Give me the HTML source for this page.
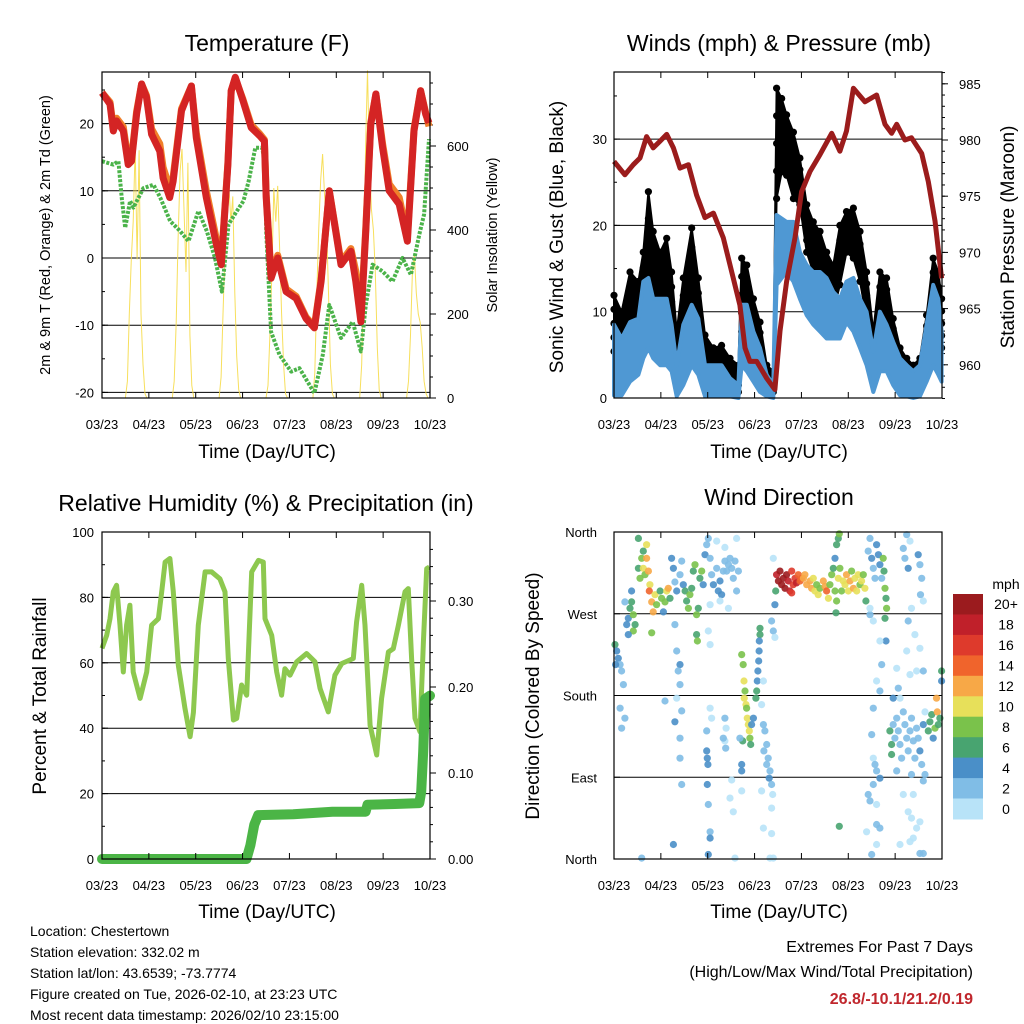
<!DOCTYPE html>
<html><head><meta charset="utf-8">
<style>
html,body{margin:0;padding:0;background:#fff;}
svg{display:block;font-family:"Liberation Sans",Arial,sans-serif;}
</style></head>
<body>
<svg id="chart" width="1024" height="1024" viewBox="0 0 1024 1024" xmlns="http://www.w3.org/2000/svg"></svg>
<script>
// ---------- DATA ----------
const dayLabels = ["03/23","04/23","05/23","06/23","07/23","08/23","09/23","10/23"];
// Temperature (F)
const tempHours = [0,4.1,5.8,7.5,10.9,13.4,15.1,17.7,20.3,22.8,25.4,29.6,31.3,34.7,36.4,40.7,45.8,48.3,53.4,58.6,61.1,64.5,66.2,68.3,72.2,76.4,80.7,83.2,84.1,86.6,90,94.3,99.4,104.5,108.8,112.2,116.4,122.4,127.5,130,132.6,135.1,137.7,140.3,143.7,147.1,152.2,156.4,159.8,163.2,165.8,167.5];
const temp2m = [24.6,22.9,18.9,20.4,18.9,13.9,14.4,21.4,25.9,23.9,18.4,15.9,11.9,9.0,11.4,21.9,25.6,17.9,9.0,2.0,-1.0,13.9,24.9,26.9,23.4,19.4,18.2,17.4,9.0,-3.0,0,-5.0,-6.0,-9.0,-10.4,-3.5,10,-1.0,1.0,-3.5,-9.5,4,19.9,24.4,16.4,10,8,2.5,18.9,24.9,21.4,20.1];
const temp9m = [24.6,23.2,19.5,20.8,19.5,14.5,14.8,21.8,25.9,24.2,19.2,17.0,13.5,10.4,12.0,22.2,25.6,18.6,10.0,2.8,-0.6,14.2,24.9,26.7,23.6,19.8,18.5,17.6,9.4,-2.6,0.4,-4.6,-5.7,-8.8,-10.2,-3.2,10,-0.6,1.4,-2.0,-8.5,4.5,20.2,24.4,17.0,11,9,3.2,19.2,24.9,21.6,19.6];
const dewHours = [0,5.8,8.4,10.1,11.9,14.4,16.1,21.2,26.4,29.8,34.9,40,44.3,49.4,53.7,57.9,61.4,64.8,69.1,72.5,75.1,78.5,81.9,83.6,84.1,86.6,90.9,96.9,101.1,108.8,113.1,116.4,122.4,128.4,132.6,135.1,138.6,143.7,148.8,153.9,158.2,162.5,165,167.5];
const dewPt = [14.4,13.9,14.4,9,4.5,8.5,7.5,10.4,10.9,9,5.5,4,2.5,7.0,4,0,-5,5,7,8.5,11.4,16.4,16.4,14.4,4,-11,-14.4,-16.9,-16.4,-20.1,-14.4,-7,-11.9,-9.5,-13.9,-7,-1.0,-2,-3.5,0,-2.5,3.5,6.5,17.7];
// Solar insolation, hourly values 12..23 UTC per day (night = 0)
const solarDay0 = [0,40,200,330,420,600,330,590,200,80,10,0];
const solarDay1 = [0,40,180,380,540,593,450,300,560,150,30,0];
const solarDay2 = [0,50,200,350,450,505,420,480,250,100,20,0];
const solarDay3 = [0,30,150,300,500,420,505,350,200,80,10,0];
const solarDay4 = [0,60,250,400,520,581,480,420,250,80,10,0];
const solarDay5 = [0,80,300,600,780,560,450,400,300,120,20,0];
const solarDay6 = [0,40,150,300,342,250,200,180,120,40,10,0];
// Winds (mph) & pressure (mb)
const windHours = [0,3.9,8.2,12.5,15,17.6,20.1,23.6,27,29.5,32.1,35.5,39.8,43.2,46.6,50.9,55.1,59.4,63.7,65.4,68,71.4,74.8,78.2,81.6,83.3,85.9,88.4,91.9,95.2,98.7,102.1,105.5,108.9,112.3,115.7,119.1,122.6,126,129.4,132.8,136.2,139.6,143,146.5,149.9,153.3,156.7,160.1,163.5,166.1,167.8];
const gustHi = [11.9,10.0,14.6,13.5,16.9,23.9,19.3,16.9,18.5,14.6,7.7,13.9,19.7,13.9,7.3,5.8,6.1,4.6,3.8,16.2,15.4,11.5,8.8,3.8,3.1,35.9,34.7,32.8,30.8,27.8,22.4,20.4,19.3,16.9,15.4,20.0,21.6,22.0,19.3,14.6,7.7,14.6,13.9,9.2,5.8,4.6,3.8,4.6,9.6,16.2,14.6,11.5];
const gustLo = [5.4,3.8,5.7,7.7,9.6,11.5,10.8,10.0,9.2,7.7,3.1,5.8,10.8,6.9,2.7,2.3,2.7,1.5,0.7,7.7,7.7,5.8,3.8,1.5,0.7,23.1,26.2,25.8,23.1,22.4,16.9,14.6,14.6,11.5,10.0,13.1,16.9,16.2,13.5,9.2,3.8,7.7,8.5,4.6,3.1,1.9,1.5,1.9,4.6,9.6,7.7,5.8];
const windHi = [8.5,6.9,8.8,9.2,13.5,13.9,11.5,11.5,11.5,8.5,3.8,8.5,10.8,9.2,3.8,3.8,3.8,2.3,1.5,10.8,10.8,7.7,5.8,2.7,1.5,21.2,20.8,20.4,20.4,16.9,15.4,14.6,14.6,13.9,12.3,11.5,13.5,13.9,11.5,10.0,5.4,10.0,8.5,6.5,4.6,3.8,3.1,3.8,8.5,13.1,11.5,7.7];
const windLo = [0.3,0.3,1.9,2.7,4.6,5.8,4.6,3.8,3.8,3.1,0.2,1.5,3.8,2.7,0.2,0.2,0.3,0.2,0,3.8,3.1,1.9,0.7,0.2,0,13.1,13.9,14.6,13.5,11.5,9.6,8.5,7.7,6.9,6.9,6.9,8.8,7.7,5.8,3.8,0.7,3.1,3.1,1.5,0.3,0.2,0,0.2,1.9,3.8,2.7,1.9];
const presHours = [0,5.6,9.9,13.3,16.7,20.1,23.6,27,30.4,33.8,38.1,42.3,46.6,50.9,56,61.1,64.5,67.1,69.6,73.1,78.2,82.4,85,88.4,92.7,96.1,100.4,105.5,111.5,115.7,119.1,122.6,128.5,134.5,138.8,142.2,144.8,149,152.4,157.6,161,164.4,167.8];
const pressure = [978.1,976.9,977.8,978.4,980.3,979.3,979.9,980.5,979.3,977.5,977.8,975.1,973.1,973.5,971.3,967.7,965.3,961.5,960.3,960.3,958.8,957.8,963,967.4,971.3,975.4,977.2,978.7,980.6,979,980.8,984.6,983.4,984.0,981.4,980.6,981.4,980,980.2,978.8,976.3,972.8,967.7];
// Relative humidity (%) & precipitation (in)
const rhHours = [0,2.4,4.1,5.8,7.5,9.2,10.9,12.6,14.3,16,19.5,22.9,25.4,28.9,30.6,32.3,34.8,36.5,39.1,42.5,45.1,46.8,49.3,52.8,56.2,60.4,63,64.7,67.3,69,71.5,74.1,76.7,80.1,82.6,83.5,86.9,89.5,92,93.7,96.3,99.7,104.8,109.1,111.7,115.9,119.3,122.8,128.7,130.4,133,134.7,137.3,140.7,143.2,146.7,149.2,151.8,155.2,156.9,158.6,160.3,162.9,164.6,166.3,167.7];
const rh = [64.4,68.4,73.5,81.7,83.7,71.5,57.2,71.5,77.6,57.2,49.1,57.2,71.5,73.5,81.7,90.8,91.9,81.7,59.3,46,37.4,44.8,71.5,87.8,87.8,85.7,81.7,61.3,42.5,43,53.2,50.1,87.8,91.3,90.8,73.5,68.4,57.2,50.1,58.2,56.2,60.3,62.8,60.3,52.1,45,56.2,59.8,61.3,72.5,83.7,71.5,40.9,31.8,49.1,63.3,64.3,71.5,81.7,82.7,61.3,43,38.9,66.4,88.8,89.3];
const precipHours = [0,74,76,78,80,98,118,135,136,150,162.5,163.5,164.5,165.5,168];
const precip = [0,0,0.016,0.04,0.051,0.052,0.055,0.055,0.063,0.064,0.065,0.078,0.125,0.186,0.19];
// Wind direction observations (hours since start, degrees, mph)
const dirHours = [0.5,1.4,2.2,3.1,3.9,4.8,3.1,3.9,5.6,0.8, 6.5,7.3,8.2,9,9.9,9.9,7.3,10.8,5.6,9,
 12.5,12.5,13.3,14.2,15,15.9,16.7,17.6,18.4,18.1,19.3,20.1,21,21.8,23.6,24.4,25.3,26.1,27,27.8,28.7,19.3,15,16.7,
 29.5,30.4,31.2,32.1,33.8,34.7,35.5,36.4,37.2,38.1,38.9,39.8,40.6,41.5,42.3,43.2,44,44.9,45.7,46.6,47.5,31.2,32.1,33.8,32.9,34.7,33.8,33.8,34.7,42.3,42.7,31.2,
 48.3,49.2,50,50.9,52.6,53.4,54.3,55.1,56,56.8,57.7,58.6,59.4,60.3,61.1,62,62.8,63.7,52.6,56.8,62.8,49.2,58.6,54.3,48.3,49.2,
 47.5,47.8,48.1,47.8,48.3,49.2,49.2,48.3,47.5,49.2,50, 56.8,57.4,56.8,57.2,56,
 65.4,66.2,66.6,67.1,66.7,67.6,67.9,68.3,68.8,69.3,69.6,70,70.5,71.4,65.9,65.4,65.4,65.4,64.5,
 74.8,74.8,74.4,74.3,74.1,73.7,73.4,73.1,72.7,
 76.5,77.3,78.2,79,79.9,79.5,80.7,81.3,80.7,78.2,76.8,75.6,76.5,80.7,79.9,81.6,75.6,76.5,
 80.7,81.6,82.4,81.6,82.4,82.8,
 83.3,84.2,85,85.9,86.7,87.6,88.4,89.3,90.1,91,91.8,92.7,93.5,94.4,95.3,96.1,91,97,97.8,
 98.7,100.4,101.2,102.1,102.9,103.8,104.6,105.5,107.2,108.1,108.9,109.8,110.6,111.5,112.3,113.2,114,114.9,115.7,116.6,117.4,114,114.9,115.4,113.2,113.7,115.4,
 118.3,119.1,120,120.9,121.7,122.6,123.4,124.3,125.1,126,126.8,127.7,128.5,129,
 130.2,131.1,132,132.8,133.7,134.5,135.4,136.2,137.1,137.9,138.3,138.8,139.3,139.6,138.8,139.3,131.1,132.8,136.2,137.1,134.5,136.2,132.8,132,132.8,133.7,134.5,136.2,132.8,130.2,131.1,134.5,134.5,136.2,134.5,132,129.4,131.1,
 141.3,142.2,142.2,143,143.9,144.8,145.6,146.5,147.3,148.2,149,149.9,150.7,151.6,152.4,153.3,154.1,155,155.8,156.7,157.6,158.4,159.3,161,161.8,162.7,163.5,164.4,165.2,165.6,166.1,166.9,167.8,167.8,159.3,152.4,144.8,146.5,145.6,143,
 148.2,149.9,149,150.7,151.6,155.8,156.7,157.6,157,158.4,152.4,150.7,154.1,156.7,149.9,144.8,151.6,155,158.4,148.2,153.3,150.7,152.4,156.7,155,153.3,156.7,158.4,151.6,146.5,158.4,
 14.2,30.4,26.1,32.1,33.8,61.1,59.4,60.3,62];
const dirDeg = [236,229,221,214,207,192,166,144,155,214, 258,265,276,283,269,251,247,258,283,295,
 353,320,309,331,320,313,331,317,302,295,283,272,291,280,295,287,272,283,295,298,287,249,339,346,
 331,320,305,295,313,328,302,295,284,276,291,298,317,324,269,276,309,317,302,335,346,258,229,214,207,163,133,111,82,247,240,151,
 353,331,313,302,320,295,306,291,317,328,317,324,331,320,309,328,295,317,350,343,353,280,276,284,251,236,
 119,111,104,82,60,30,23,5,141,166,155, 155,144,130,122,133,
 225,214,196,185,177,170,166,155,148,141,133,126,148,155,130,104,97,75,133,
 254,247,240,229,218,207,196,185,177,
 148,141,126,111,97,89,82,71,56,104,119,75,34,28,1,1,170,196,
 262,251,244,331,280,295,
 313,306,317,302,309,298,313,306,295,317,302,309,304,313,306,309,293,309,313,
 302,306,298,309,295,302,291,298,306,300,295,287,302,313,320,295,284,309,320,295,306,346,353,358,331,271,36,
 302,313,295,306,317,298,309,295,313,302,306,313,298,284,
 339,353,331,320,309,346,335,324,309,331,317,298,287,276,265,240,269,262,240,214,196,185,166,137,111,104,97,89,82,71,64,60,38,34,16,5,30,276,
 141,126,115,148,133,155,141,126,111,162,148,133,119,141,155,130,111,144,133,119,104,148,162,141,151,159,133,144,177,162,148,155,207,196,93,93,97,177,188,177,
 342,357,331,320,350,335,324,309,291,284,276,262,247,232,229,210,203,207,207,71,71,52,45,41,34,23,6,6,19,16,86,
 1,16,174,177,192,52,67,87,1];
const dirSpeed = [6,4,4,2,2,2,2,2,2,4, 4,4,6,6,8,8,4,6,2,4,
 6,6,8,8,10,8,12,12,10,14,12,12,10,8,6,8,4,8,10,12,6,8,6,10,
 4,4,2,4,2,2,4,6,6,8,8,6,6,8,8,6,6,8,4,4,2,2,2,4,2,2,2,2,2,6,8,4,
 2,2,2,4,2,4,4,4,2,2,2,2,2,2,2,2,2,2,0,0,0,0,0,0,0,0,
 4,4,4,4,2,2,4,4,2,0,0, 2,0,0,2,2,
 8,8,10,8,10,10,8,10,10,10,8,6,4,4,6,4,4,0,2,
 6,6,4,4,4,4,4,6,6,
 2,2,2,2,2,4,2,0,0,2,2,0,0,0,0,0,0,0,
 2,2,0,0,4,6,
 18,20,20,20,20,20,20,18,18,16,16,16,18,14,14,14,16,12,12,
 12,12,12,10,10,8,10,8,12,12,14,10,8,8,6,8,8,10,8,8,10,6,6,8,4,6,6,
 10,12,10,12,8,12,10,10,10,8,10,8,10,6,
 2,2,4,2,2,4,4,4,2,8,6,8,6,8,6,4,2,0,0,2,0,2,2,2,0,2,2,4,2,2,2,0,2,2,0,2,0,0,
 6,6,6,2,2,2,2,2,2,2,2,2,2,2,2,2,2,2,2,4,2,4,0,6,6,6,4,8,12,12,6,6,6,4,2,2,2,0,2,4,
 2,2,2,4,0,4,2,2,2,0,0,2,0,0,0,0,0,0,2,0,0,0,0,0,0,0,2,2,0,0,2,
 2,4,2,0,2,0,0,0,0];
const speedLabels = ["0","2","4","6","8","10","12","14","16","18","20+"];
const speedColors = ["#b8e3f8","#80bde6","#4a8fc8","#48a470","#7ac24b","#e7e05a","#f7a847","#f0642c","#de3a2c","#c0202a","#9b1b1e"];

// ---------- HELPERS ----------
const NS = "http://www.w3.org/2000/svg";
const svg = document.getElementById("chart");
function el(tag, attrs, parent) {
  const e = document.createElementNS(NS, tag);
  for (const k in attrs) e.setAttribute(k, attrs[k]);
  (parent || svg).appendChild(e);
  return e;
}
function txt(s, x, y, size, anchor, parent, extra) {
  const t = el("text", Object.assign({x:x, y:y, "font-size":size, "text-anchor":anchor||"middle", fill:"#000"}, extra||{}), parent);
  t.textContent = s;
  return t;
}
function makeX(x0, x1) { return h => x0 + h / 168 * (x1 - x0); }
function pathFrom(xs, ys, fx, fy) {
  return xs.map((h, i) => (i ? "L" : "M") + fx(h).toFixed(1) + "," + fy(ys[i]).toFixed(1)).join("");
}
function frame(name) {
  const g = el("g", {});
  
  
  return g;
}
function xAxis(g, x0, x1, y0, y1, labelY) {
  const fx = makeX(x0, x1);
  dayLabels.forEach((d, i) => {
    const x = fx(i * 24);
    el("line", {x1:x, y1:y1, x2:x, y2:y1-6, stroke:"#000", "stroke-width":1}, g);
    el("line", {x1:x, y1:y0, x2:x, y2:y0+6, stroke:"#000", "stroke-width":1}, g);
    const t = txt(d, x, labelY, 13, "middle", g);
    
    
  });
}
function border(g, x0, y0, x1, y1) {
  const r = el("rect", {x:x0, y:y0, width:x1-x0, height:y1-y0, fill:"none", stroke:"#000", "stroke-width":1.2}, g);
  
  
}

// ---------- PANEL 1: TEMPERATURE ----------
(function(){
  const x0=102,x1=430,y0=72,y1=398;
  const g = frame("temperature-panel");
  const fx = makeX(x0,x1);
  const fy = v => 258 - v*6.72;
  const fs = v => 398 - v*0.42;
  [-20,-10,0,10,20].forEach(v=>{
    const gl = el("line",{x1:x0,x2:x1,y1:fy(v),y2:fy(v),stroke:"#000","stroke-width":1},g);
    
    
    const t = txt(String(v), 94, fy(v)+5, 13, "end", g);
    
    
    el("line",{x1:x0,x2:x0+6,y1:fy(v),y2:fy(v),stroke:"#000"},g);
  });
  for (let v=-20; v<=25; v+=5) el("line",{x1:x0,x2:x0+3,y1:fy(v),y2:fy(v),stroke:"#000"},g);
  [0,200,400,600].forEach(v=>{
    el("line",{x1:x1,x2:x1+6,y1:fs(v),y2:fs(v),stroke:"#000"},g);
    const t = txt(String(v), 447, fs(v)+5, 13, "start", g);
    
    
  });
  for (let v=0; v<=750; v+=50) el("line",{x1:x1,x2:x1+3,y1:fs(v),y2:fs(v),stroke:"#000"},g);
  const solarDays=[solarDay0,solarDay1,solarDay2,solarDay3,solarDay4,solarDay5,solarDay6];
  solarDays.forEach((arr,d)=>{
    const hs = arr.map((v,i)=>d*24+12+i);
    const p = el("path",{d:pathFrom(hs,arr,fx,fs),fill:"none",stroke:"#f6dc4a","stroke-width":1,opacity:0.9},g);
    
    
  });
  const dp = el("path",{d:pathFrom(dewHours,dewPt,fx,fy),fill:"none",stroke:"#4bb34a","stroke-width":4,"stroke-dasharray":"3 1.5","stroke-linejoin":"round"},g);
  
  
  const o = el("path",{d:pathFrom(tempHours,temp9m,fx,fy),fill:"none",stroke:"#f07f2a","stroke-width":7,"stroke-linejoin":"round"},g);
  
  
  const r = el("path",{d:pathFrom(tempHours,temp2m,fx,fy),fill:"none",stroke:"#d42424","stroke-width":7,"stroke-linejoin":"round"},g);
  
  
  border(g,x0,y0,x1,y1);
  xAxis(g,x0,x1,y0,y1,429);
  const t1 = txt("Temperature (F)", 267, 51, 23, "middle", g);
  
  
  const t2 = txt("Time (Day/UTC)", 267, 458, 19, "middle", g);
  
  
  const t3 = txt("2m & 9m T (Red, Orange) & 2m Td (Green)", 0, 0, 14.5, "middle", g, {transform:"translate(50,235) rotate(-90)"});
  
  
  const t4 = txt("Solar Insolation (Yellow)", 0, 0, 14.5, "middle", g, {transform:"translate(497,235) rotate(-90)"});
  
  
})();

// ---------- PANEL 2: WINDS & PRESSURE ----------
(function(){
  const x0=614,x1=942,y0=72,y1=398;
  const g = frame("winds-panel");
  const fx = makeX(x0,x1);
  const fy = v => 398 - v*8.63;
  const fp = p => 140 - (p-980)*11.24;
  [10,20,30].forEach(v=>{
    const gl = el("line",{x1:x0,x2:x1,y1:fy(v),y2:fy(v),stroke:"#000","stroke-width":1},g);
    
    
  });
  [0,10,20,30].forEach(v=>{
    el("line",{x1:x0,x2:x0+6,y1:fy(v),y2:fy(v),stroke:"#000"},g);
    const t = txt(String(v), 607, fy(v)+5, 13, "end", g);
    
    
  });
  for (let v=0; v<=35; v+=5) el("line",{x1:x0,x2:x0+3,y1:fy(v),y2:fy(v),stroke:"#000"},g);
  [960,965,970,975,980,985].forEach(p=>{
    el("line",{x1:x1,x2:x1+6,y1:fp(p),y2:fp(p),stroke:"#000"},g);
    const t = txt(String(p), 959, fp(p)+5, 13, "start", g);
    
    
  });
  for (let p=957; p<=986; p++) el("line",{x1:x1,x2:x1+3,y1:fp(p),y2:fp(p),stroke:"#000"},g);
  // gust scatter: dots filling hi/lo envelope
  windHours.forEach((h,i)=>{
    const lo = gustLo[i], hi = gustHi[i];
    for (let k=0; k<=4; k++) {
      const v = lo + (hi-lo)*k/4;
      const c = el("circle",{cx:fx(h).toFixed(1),cy:fy(v).toFixed(1),r:3.6,fill:"#000"},g);
      
      
    }
  });
  const gp = pathFrom(windHours,gustHi,fx,fy) + windHours.slice().reverse().map((h,i)=>"L"+fx(h).toFixed(1)+","+fy(gustLo[gustLo.length-1-i]).toFixed(1)).join("")+"Z";
  const ge = el("path",{d:gp,fill:"#000",stroke:"#000","stroke-width":2,"stroke-linejoin":"round"},g);
  
  
  const wp = pathFrom(windHours,windHi,fx,fy) + windHours.slice().reverse().map((h,i)=>"L"+fx(h).toFixed(1)+","+fy(windLo[windLo.length-1-i]).toFixed(1)).join("")+"Z";
  const we = el("path",{d:wp,fill:"#4f98d3",stroke:"#4f98d3","stroke-width":4,"stroke-linejoin":"round"},g);
  
  
  const pr = el("path",{d:pathFrom(presHours,pressure,fx,fp),fill:"none",stroke:"#9b1c1c","stroke-width":5,"stroke-linejoin":"round"},g);
  
  
  border(g,x0,y0,x1,y1);
  xAxis(g,x0,x1,y0,y1,429);
  const t1 = txt("Winds (mph) & Pressure (mb)", 779, 51, 23, "middle", g);
  
  
  const t2 = txt("Time (Day/UTC)", 779, 458, 19, "middle", g);
  
  
  const t3 = txt("Sonic Wind & Gust (Blue, Black)", 0, 0, 19, "middle", g, {transform:"translate(563,237) rotate(-90)"});
  
  
  const t4 = txt("Station Pressure (Maroon)", 0, 0, 19, "middle", g, {transform:"translate(1014,237) rotate(-90)"});
  
  
})();

// ---------- PANEL 3: RH & PRECIP ----------
(function(){
  const x0=102,x1=430,y0=532,y1=859;
  const g = frame("humidity-panel");
  const fx = makeX(x0,x1);
  const fy = v => 859 - v*3.27;
  const fr = v => 859 - v*860;
  [20,40,60,80].forEach(v=>{
    const gl = el("line",{x1:x0,x2:x1,y1:fy(v),y2:fy(v),stroke:"#000","stroke-width":1},g);
    
    
  });
  [0,20,40,60,80,100].forEach(v=>{
    el("line",{x1:x0,x2:x0+6,y1:fy(v),y2:fy(v),stroke:"#000"},g);
    const t = txt(String(v), 94, fy(v)+5, 13, "end", g);
    
    
  });
  for (let v=0; v<=100; v+=10) el("line",{x1:x0,x2:x0+3,y1:fy(v),y2:fy(v),stroke:"#000"},g);
  ["0.00","0.10","0.20","0.30"].forEach(s=>{
    const v = parseFloat(s);
    el("line",{x1:x1,x2:x1+6,y1:fr(v),y2:fr(v),stroke:"#000"},g);
    const t = txt(s, 448, fr(v)+5, 13, "start", g);
    
    
  });
  for (let v=0; v<=0.38; v+=0.02) el("line",{x1:x1,x2:x1+3,y1:fr(v),y2:fr(v),stroke:"#000"},g);
  const rp = el("path",{d:pathFrom(rhHours,rh,fx,fy),fill:"none",stroke:"#8dc84f","stroke-width":5,"stroke-linejoin":"round"},g);
  
  
  const pp = el("path",{d:pathFrom(precipHours,precip,fx,fr),fill:"none",stroke:"#4bb546","stroke-width":10,"stroke-linejoin":"round","stroke-linecap":"round"},g);
  
  
  border(g,x0,y0,x1,y1);
  xAxis(g,x0,x1,y0,y1,890);
  const t1 = txt("Relative Humidity (%) & Precipitation (in)", 266, 511, 23, "middle", g);
  
  
  const t2 = txt("Time (Day/UTC)", 267, 918, 19, "middle", g);
  
  
  const t3 = txt("Percent & Total Rainfall", 0, 0, 19, "middle", g, {transform:"translate(46,696) rotate(-90)"});
  
  
})();

// ---------- PANEL 4: WIND DIRECTION ----------
(function(){
  const x0=614,x1=942,y0=532,y1=859;
  const g = frame("wind-direction-panel");
  const fx = makeX(x0,x1);
  const fy = d => 859 - d*327/360;
  const dirNames = ["North","East","South","West","North"];
  dirNames.forEach((n,i)=>{
    const d = i*90;
    if (i>0 && i<4) {
      const gl = el("line",{x1:x0,x2:x1,y1:fy(d),y2:fy(d),stroke:"#000","stroke-width":1},g);
      
      
    }
    el("line",{x1:x0,x2:x0+6,y1:fy(d),y2:fy(d),stroke:"#000"},g);
    const t = txt(n, 597, fy(d)+5, 13, "end", g);
    
    
  });
  dirHours.forEach((h,i)=>{
    const ci = Math.min(10, Math.floor(dirSpeed[i]/2));
    const c = el("circle",{cx:fx(h).toFixed(1),cy:fy(dirDeg[i]).toFixed(1),r:3.6,fill:speedColors[ci],opacity:0.9},g);
    
    
  });
  border(g,x0,y0,x1,y1);
  xAxis(g,x0,x1,y0,y1,890);
  const t1 = txt("Wind Direction", 779, 505, 23, "middle", g);
  
  
  const t2 = txt("Time (Day/UTC)", 779, 918, 19, "middle", g);
  
  
  const t3 = txt("Direction (Colored By Speed)", 0, 0, 19, "middle", g, {transform:"translate(539,696) rotate(-90)"});
  
  
  const lg = el("g",{},g);
  
  
  const mph = txt("mph", 1006, 589, 14, "middle", lg);
  
  
  const bh = 225/11;
  speedLabels.slice().reverse().forEach((lab,i)=>{
    const col = speedColors[speedColors.length-1-i];
    const r = el("rect",{x:953,y:(594+i*bh).toFixed(1),width:30,height:(bh+0.5).toFixed(1),fill:col},lg);
    
    
    const t = txt(lab, 1006, (594+i*bh+bh/2+5).toFixed(1), 14, "middle", lg);
    
    
  });
})();

// ---------- FOOTER ----------
(function(){
  const g = el("g",{});
  
  
  const lines = ["Location: Chestertown","Station elevation: 332.02 m","Station lat/lon: 43.6539; -73.7774","Figure created on Tue, 2026-02-10, at 23:23 UTC","Most recent data timestamp: 2026/02/10 23:15:00"];
  lines.forEach((s,i)=>{
    const t = txt(s, 30, 936+i*21, 14, "start", g);
    
    
  });
  const g2 = el("g",{});
  
  
  const a = txt("Extremes For Past 7 Days", 973, 952, 16, "end", g2);
  
  
  const b = txt("(High/Low/Max Wind/Total Precipitation)", 973, 977, 16, "end", g2);
  
  
  const c = txt("26.8/-10.1/21.2/0.19", 973, 1004, 16, "end", g2, {fill:"#c0272d","font-weight":"bold"});
  
  
})();
</script>
</body></html>
